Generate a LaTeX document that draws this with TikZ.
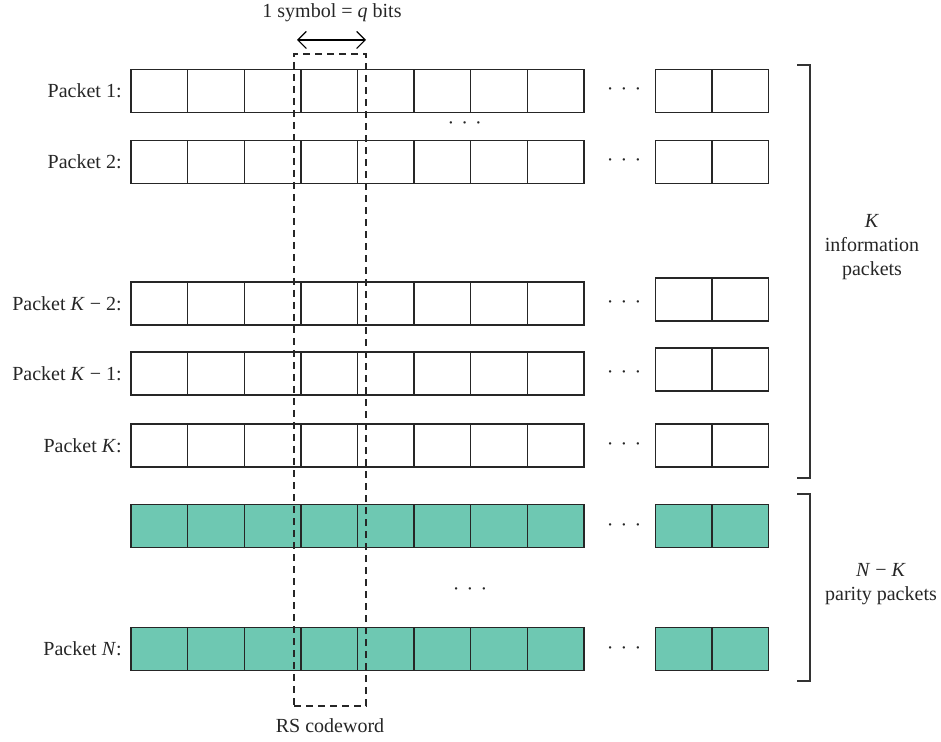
\documentclass[tikz,border=0pt]{standalone}
\usepackage{fontspec}
\setmainfont{Liberation Serif}
\usepackage{xcolor}
\usepackage{tikz}
\usetikzlibrary{arrows.meta, positioning}
\definecolor{paritygreen}{RGB}{110,200,178}
\newcommand{\rowdots}{·\hspace{3.6pt}·\hspace{3.6pt}·}

\begin{document}
\begin{tikzpicture}[
    x=0.5pt, y=-0.5pt,
    font=\normalsize,
    text=black!85,
    cell/.style={draw=black!85, line width=0.7pt, minimum width=28.3pt, minimum height=21.5pt, inner sep=0pt, outer sep=0pt},
    info/.style={cell, fill=white},
    parity/.style={cell, fill=paritygreen},
    lbl/.style={anchor=east, inner sep=0pt},
    gap/.style={anchor=base, inner sep=0pt},
    brace/.style={line width=0.8pt, draw=black!80},
    arrow/.style={{Straight Barb[length=1.5mm]}-{Straight Barb[length=1.5mm]}, line width=0.6pt}
]
    \useasboundingbox (0,0) rectangle (941,742);

    % Information packets
    \foreach \r/\y/\z/\txt in {1/91/91/{Packet 1:}, 2/162/162/{Packet 2:},
        3/303.5/299.5/{Packet \textit{K} − 2:}, 4/373.5/369.5/{Packet \textit{K} − 1:},
        5/445.5/445.5/{Packet \textit{K}:}} {
      \foreach \c in {1,...,8}
        \node[info] (p\r c\c) at ({131+56.6*(\c-0.5)}, \y) {};
      \node[info] (p\r e1) at (683.5, \z) {};
      \node[info, right=0pt of p\r e1] (p\r e2) {};
      \node[lbl, left=4.5pt of p\r c1] (l\r) {\txt};
      \node[gap] (d\r) at (624, \y+5) {\rowdots};
    }

    % Parity packets
    \foreach \r/\y/\txt in {6/526/{}, 7/649/{Packet \textit{N}:}} {
      \foreach \c in {1,...,8}
        \node[parity] (p\r c\c) at ({131+56.6*(\c-0.5)}, \y) {};
      \node[parity] (p\r e1) at (683.5, \y) {};
      \node[parity, right=0pt of p\r e1] (p\r e2) {};
      \node[lbl, left=4.5pt of p\r c1] (l\r) {\txt};
      \node[gap] (d\r) at (624, \y+5) {\rowdots};
    }

    % Skipped rows
    \node[gap] (skipinfo) at (464.7, 130) {\rowdots};
    \node[gap] (skipparity) at (470, 595) {\rowdots};

    % RS codeword
    \node[draw=black!85, line width=0.7pt, dash pattern=on 3.5pt off 2.5pt,
          minimum width=36pt, minimum height=326pt, inner sep=0pt] (cw) at (330, 380) {};
    \node[below=6pt of cw, inner sep=0pt] (cwlbl) {RS codeword};

    % Symbol size
    \coordinate (sl) at (297, 40);
    \coordinate (sr) at (366, 40);
    \draw[arrow] (sl) -- (sr);
    \node (symlbl) at (332, 13) {1 symbol = \textit{q} bits};

    % Brackets
    \coordinate (bi1) at (797, 65);
    \coordinate (bi2) at (797, 478);
    \coordinate (bp1) at (797, 494);
    \coordinate (bp2) at (797, 681);
    \draw[brace] (bi1) -- ++(13,0) |- (bi2);
    \draw[brace] (bp1) -- ++(13,0) |- (bp2);
    \node[align=center] (infolbl) at (872, 247) {\textit{K}\\information\\packets};
    \node[align=center] (paritylbl) at (881, 584) {\textit{N} − \textit{K}\\parity packets};
\end{tikzpicture}
\end{document}
